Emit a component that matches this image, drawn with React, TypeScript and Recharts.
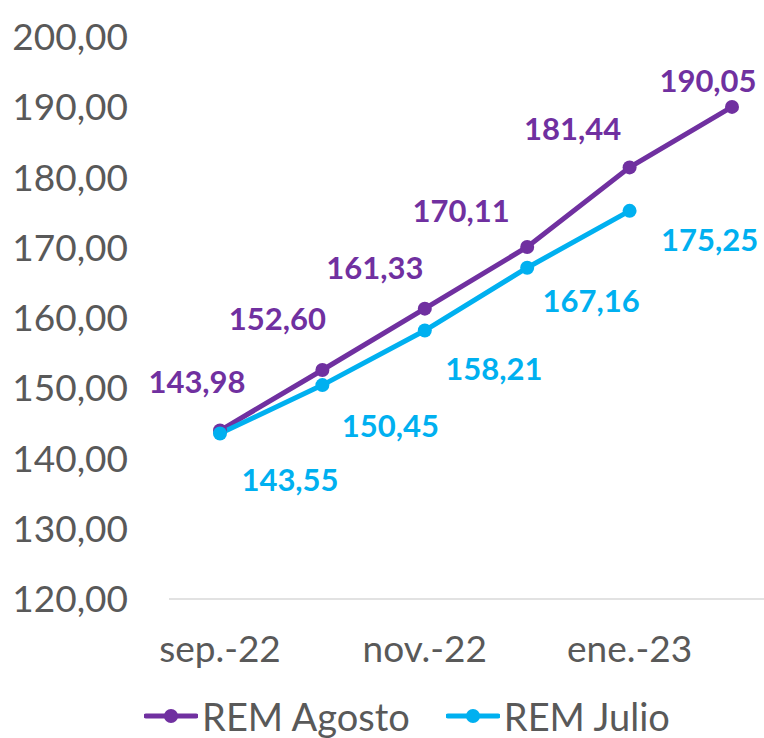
import React from "react";
import { LineChart, Line, XAxis, YAxis, Legend, LabelList } from "recharts";

const months = ["sep.-22", "oct.-22", "nov.-22", "dic.-22", "ene.-23", "feb.-23"];
const remAgosto = [143.98, 152.6, 161.33, 170.11, 181.44, 190.05];
const remJulio = [143.55, 150.45, 158.21, 167.16, 175.25, null];
const yTicks = [120, 130, 140, 150, 160, 170, 180, 190, 200];

const PURPLE = "#7030A0";
const CYAN = "#00B0F0";
const GREY = "#595959";
const FONT = "Lato, 'Open Sans', sans-serif";

// label offsets relative to each point
const agostoOffsets = [
  [-23, -50],
  [-45, -52],
  [-50, -42],
  [-66, -37],
  [-57, -39],
  [-24, -27],
];
const julioOffsets = [
  [70, 45],
  [68, 40],
  [69, 37],
  [64, 32],
  [80, 28],
];

const data = months.map((m, i) => ({
  month: m,
  agosto: remAgosto[i],
  julio: remJulio[i],
}));

const fmt = (v: number) => v.toFixed(2).replace(".", ",");

const makeLabel = (color: string, offsets: number[][]) => (props: any) => {
  const { x, y, value, index } = props;
  if (value == null) return null;
  const [dx, dy] = offsets[index] || [0, 0];
  return (
    <text
      x={x + dx}
      y={y + dy}
      fill={color}
      textAnchor="middle"
      dominantBaseline="central"
      fontFamily={FONT}
      fontWeight="bold"
      fontSize={31}
    >
      {fmt(value)}
    </text>
  );
};

const LegendIcon = ({ color }: { color: string }) => (
  <svg width={54} height={20} style={{ marginRight: 4 }}>
    <line x1={2} y1={10} x2={52} y2={10} stroke={color} strokeWidth={5} strokeLinecap="round" />
    <circle cx={27} cy={10} r={7} fill={color} />
  </svg>
);

const CustomLegend = () => (
  <div
    style={{
      display: "flex",
      justifyContent: "center",
      alignItems: "center",
      paddingLeft: 50,
      paddingTop: 30,
      fontFamily: FONT,
      fontSize: 38,
      color: GREY,
      lineHeight: "34px",
    }}
  >
    <div style={{ display: "flex", alignItems: "center", marginRight: 36 }}>
      <LegendIcon color={PURPLE} />
      <span>REM Agosto</span>
    </div>
    <div style={{ display: "flex", alignItems: "center" }}>
      <LegendIcon color={CYAN} />
      <span>REM Julio</span>
    </div>
  </div>
);

export default function App() {
  return (
    <div
      style={{
        position: "absolute",
        left: 0,
        top: 0,
        width: 764,
        height: 738,
        overflow: "hidden",
        background: "#fff",
      }}
    >
      <LineChart
        width={783}
        height={738}
        data={data}
        margin={{ top: 37, right: 0, bottom: 0, left: 0 }}
      >
        <XAxis
          dataKey="month"
          interval={1}
          height={70}
          padding={{ left: 51, right: 51 }}
          tickLine={false}
          tickSize={0}
          tickMargin={37}
          axisLine={{ stroke: "#D9D9D9", strokeWidth: 1.5 }}
          tick={{ fill: GREY, fontSize: 37, fontFamily: FONT }}
        />
        <YAxis
          domain={[120, 200]}
          ticks={yTicks}
          width={169}
          axisLine={false}
          tickLine={false}
          tickSize={0}
          tickMargin={41}
          tickFormatter={fmt}
          tick={{ fill: GREY, fontSize: 37, fontFamily: FONT }}
        />
        <Legend
          verticalAlign="bottom"
          height={69}
          wrapperStyle={{ left: 0, width: 764 }}
          content={<CustomLegend />}
        />
        <Line
          type="linear"
          dataKey="agosto"
          name="REM Agosto"
          stroke={PURPLE}
          strokeWidth={5}
          dot={{ r: 7, fill: PURPLE, stroke: PURPLE, strokeWidth: 0 }}
          isAnimationActive={false}
        >
          <LabelList dataKey="agosto" content={makeLabel(PURPLE, agostoOffsets)} />
        </Line>
        <Line
          type="linear"
          dataKey="julio"
          name="REM Julio"
          stroke={CYAN}
          strokeWidth={5}
          dot={{ r: 7, fill: CYAN, stroke: CYAN, strokeWidth: 0 }}
          isAnimationActive={false}
        >
          <LabelList dataKey="julio" content={makeLabel(CYAN, julioOffsets)} />
        </Line>
      </LineChart>
    </div>
  );
}
